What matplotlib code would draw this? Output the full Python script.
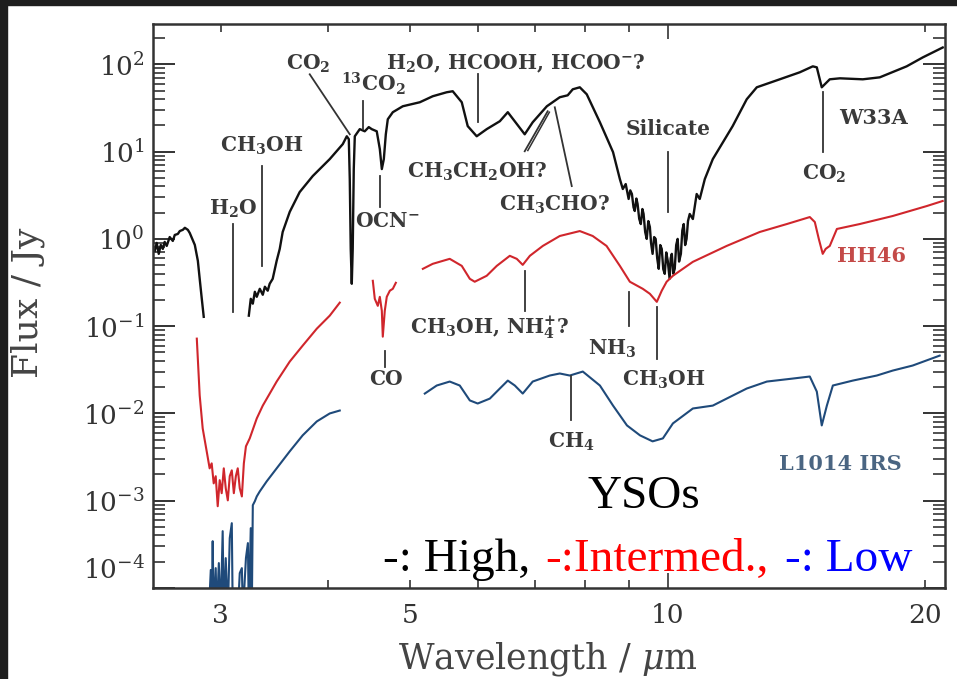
import matplotlib.pyplot as plt
from matplotlib.patches import Rectangle
from matplotlib.ticker import NullFormatter

plt.rcParams['font.family'] = 'DejaVu Serif'
plt.rcParams['mathtext.fontset'] = 'dejavuserif'

# W33A (high mass), wavelength in micron, flux in Jy
w33a_lam_1 = [2.512, 2.525, 2.539, 2.553, 2.567, 2.580, 2.594, 2.615, 2.637, 2.651, 2.673,
              2.687, 2.709, 2.724, 2.746, 2.760, 2.798, 2.821, 2.835, 2.851, 2.866]
w33a_flux_1 = [0.729, 0.90, 0.674, 0.853, 0.768, 0.924, 0.831, 1.05, 0.948, 1.11, 1.14,
               1.23, 1.27, 1.34, 1.27, 1.17, 0.853, 0.561, 0.349, 0.206, 0.128]
w33a_lam_2 = [3.236, 3.253, 3.271, 3.289, 3.306, 3.333, 3.360, 3.379, 3.405, 3.423, 3.451,
              3.488, 3.517, 3.545, 3.613, 3.711, 3.844, 4.024, 4.168, 4.213, 4.236, 4.247,
              4.258, 4.270, 4.281, 4.293, 4.305, 4.363, 4.422, 4.470, 4.506, 4.567, 4.605,
              4.630, 4.655, 4.680, 4.705, 4.769, 4.899, 5.129, 5.310, 5.514, 5.604, 5.742,
              5.835, 5.978, 6.141, 6.362, 6.500, 6.803, 6.951, 7.221, 7.477, 7.638, 7.743,
              7.891, 8.04, 8.33, 8.48, 8.63,
              8.79, 8.86, 8.93, 9.00, 9.04, 9.08, 9.12, 9.15, 9.19, 9.22, 9.26, 9.30,
              9.34, 9.37, 9.41, 9.45, 9.49, 9.53, 9.56, 9.60, 9.64, 9.68, 9.72, 9.76,
              9.80, 9.84, 9.88, 9.92, 9.96, 10.0, 10.05, 10.08, 10.11, 10.15, 10.19, 10.23,
              10.27, 10.31, 10.36, 10.40, 10.44, 10.48, 10.52, 10.56, 10.61, 10.70, 10.81, 10.90,
              11.05, 11.29, 11.91,
              12.37, 12.71, 13.52, 14.27, 14.78, 14.94, 15.14, 15.47, 15.90, 16.91, 17.70,
              19.03, 19.87, 20.97]
w33a_flux_2 = [0.132, 0.206, 0.181, 0.248, 0.217, 0.268, 0.229, 0.283, 0.255, 0.306, 0.349,
               0.561, 0.768, 1.20, 2.04, 3.44, 5.25, 8.21, 12.2, 15.0, 13.9, 4.85,
               0.768, 0.306, 0.768, 6.31, 15.0, 18.1, 17.1, 19.1, 18.1, 17.1, 10.7,
               6.31, 8.21, 15.8, 23.5, 28.3, 33.1, 36.8, 43.1, 47.9, 49.2, 36.8,
               19.6, 15.0, 18.1, 22.3, 28.3, 15.8, 21.7, 33.1, 42.0, 44.2, 51.8,
               54.6, 45.4, 21.7, 14.6, 9.87,
               4.85, 3.73, 4.25, 2.87, 3.6, 3.27, 2.3, 2.09, 2.9, 2.51, 1.7, 1.48,
               2.2, 1.93, 1.2, 1.0, 1.6, 1.37, 0.9, 0.674, 1.05, 1.0, 0.6, 0.454,
               0.85, 0.768, 0.45, 0.398, 0.7, 0.561, 0.349, 0.6, 0.674, 0.40, 0.454, 0.85,
               1.0, 0.55, 0.674, 1.25, 1.48, 0.85, 1.0, 1.6, 1.93, 1.69, 3.27, 2.87,
               4.85, 8.21, 19.6,
               39.8, 54.6, 67.4, 81.1, 94.9, 92.4, 54.6, 67.4, 69.2, 67.4, 71.0,
               94.9, 120.0, 156.0]

# HH46 (intermediate)
hh46_lam_1 = [2.813, 2.835, 2.858, 2.889, 2.912, 2.928, 2.944, 2.960, 2.976, 2.992, 3.008,
              3.025, 3.041, 3.058, 3.074, 3.091, 3.108, 3.125, 3.141, 3.158, 3.176, 3.193,
              3.211, 3.244, 3.306, 3.360, 3.488, 3.613, 3.741, 3.886, 4.024, 4.134]
hh46_flux_1 = [0.0720, 0.0161, 0.00674, 0.00368, 0.00235, 0.00268, 0.00158, 0.00191, 0.000865,
               0.00172, 0.00122, 0.00235, 0.00139, 0.00101, 0.00191, 0.00223, 0.00122, 0.00191,
               0.00235, 0.00139, 0.00112, 0.00268, 0.00420, 0.00518, 0.00877, 0.0123, 0.0232,
               0.0393, 0.0598, 0.0936, 0.132, 0.186]
hh46_lam_2 = [4.519, 4.543, 4.580, 4.605, 4.630, 4.642, 4.667, 4.692, 4.731, 4.769, 4.808]
hh46_flux_2 = [0.331, 0.206, 0.171, 0.217, 0.150, 0.0758, 0.150, 0.217, 0.255, 0.268, 0.314]
hh46_lam_3 = [5.171, 5.310, 5.559, 5.742, 5.868, 5.946, 6.141, 6.310, 6.535, 6.659, 6.767,
              6.898, 7.143, 7.477, 7.891, 8.17, 8.48, 8.79, 9.03, 9.35, 9.53, 9.71, 9.84,
              9.97, 10.14, 10.70, 11.72, 12.81, 13.78, 14.66, 14.86, 15.02, 15.18, 15.30,
              15.47, 15.77, 16.77, 18.33, 20.09, 20.97]
hh46_flux_3 = [0.454, 0.518, 0.591, 0.491, 0.349, 0.323, 0.378, 0.491, 0.640, 0.591, 0.504,
               0.640, 0.831, 1.08, 1.23, 1.08, 0.831, 0.491, 0.323, 0.268, 0.235, 0.190, 0.255,
               0.323, 0.378, 0.546, 0.831, 1.20, 1.48, 1.78, 1.56, 1.0, 0.674, 0.768,
               0.831, 1.30, 1.48, 1.83, 2.38, 2.72]

# L1014 IRS (low)
l1014_lam_1 = [2.905, 2.921, 2.928, 2.936, 2.944, 2.960, 2.968, 2.985, 3.000, 3.016, 3.025,
               3.041, 3.058, 3.074, 3.091, 3.099, 3.141, 3.158, 3.176, 3.185, 3.211, 3.228,
               3.236, 3.253, 3.262, 3.271, 3.289, 3.306, 3.333, 3.396, 3.488, 3.613, 3.741,
               3.886, 4.024, 4.134]
l1014_flux_1 = [5e-5, 0.000161, 5e-5, 0.000344, 5e-5, 0.000169, 5e-5, 0.000193, 5e-5, 0.000448,
                5e-5, 0.000220, 5e-5, 0.000373, 0.000553, 5e-5, 5e-5, 0.000148, 0.000169, 5e-5,
                0.000220, 0.000327, 5e-5, 0.000485, 5e-5, 0.000889, 0.000987, 0.00112, 0.00128,
                0.00167, 0.00235, 0.00368, 0.00561, 0.00810, 0.0100, 0.0108]
l1014_lam_2 = [5.198, 5.368, 5.559, 5.711, 5.868, 5.994, 6.193, 6.362, 6.500, 6.624, 6.767,
               6.951, 7.278, 7.477, 7.681, 7.955, 8.33, 8.63, 8.96, 9.28, 9.60, 9.87, 10.14,
               10.70, 11.29, 11.72, 12.37, 13.06, 14.00, 14.66, 14.94, 15.14, 15.35, 15.60,
               16.46, 17.56, 18.33, 19.34, 20.80]
l1014_flux_2 = [0.0169, 0.0209, 0.0232, 0.0209, 0.0141, 0.0130, 0.0148, 0.0193, 0.0238, 0.0209,
                0.0169, 0.0232, 0.0272, 0.0287, 0.0272, 0.0302, 0.0209, 0.0123, 0.00729, 0.00561,
                0.00479, 0.00518, 0.00769, 0.0114, 0.0123, 0.0148, 0.0193, 0.0232, 0.0251,
                0.0265, 0.0178, 0.00729, 0.0123, 0.0209, 0.0238, 0.0272, 0.0310, 0.0354, 0.0460]

# feature labels: text, text position, pointer line (lam0, lam1, flux0, flux1)
feat_text = [r'CO$_\mathbf{2}$', r'$^{\mathbf{13}}$CO$_\mathbf{2}$',
             r'H$_\mathbf{2}$O, HCOOH, HCOO$^\mathbf{-}$?', r'CH$_\mathbf{3}$OH',
             r'H$_\mathbf{2}$O', r'OCN$^\mathbf{-}$', r'CH$_\mathbf{3}$CH$_\mathbf{2}$OH?',
             r'CH$_\mathbf{3}$CHO?', 'Silicate', r'CO$_\mathbf{2}$',
             r'CH$_\mathbf{3}$OH, NH$_\mathbf{4}^\mathbf{+}$?', r'NH$_\mathbf{3}$',
             r'CH$_\mathbf{3}$OH', 'CO', r'CH$_\mathbf{4}$']
feat_lam = [3.80, 4.52, 6.64, 3.35, 3.10, 4.70, 5.99, 7.38, 10.0, 15.22, 6.19, 8.60, 9.89, 4.68, 7.72]
feat_flux = [102.6, 60.6, 102.6, 11.6, 2.20, 1.61, 5.83, 2.45, 18.1, 5.53, 0.0936, 0.0553,
             0.0245, 0.0245, 0.00479]
line_lam = [(3.813, 4.247), (4.398, 4.398), (5.994, 5.994), (3.351, 3.351), (3.099, 3.099),
            (4.605, 4.605), (6.803, 7.237), (7.722, 7.377), (10.0, 10.0), (15.18, 15.18),
            (6.803, 6.803), (9.00, 9.00), (9.71, 9.71), (4.667, 4.667), (7.70, 7.70)]
line_flux = [(76.9, 15.8), (37.8, 18.1), (76.9, 21.7), (6.83, 0.491), (1.48, 0.1466),
             (5.25, 2.32), (10.1, 29.0), (4.03, 32.2), (9.87, 2.04), (47.9, 9.87),
             (0.431, 0.150), (0.248, 0.1014), (0.167, 0.0425), (0.0525, 0.0344), (0.0272, 0.00832)]

src_names = ['W33A', 'HH46', 'L1014 IRS']
src_lam = [17.41, 17.32, 15.90]
src_flux = [24.1, 0.640, 0.00261]
src_color = ['#3a3a3a', '#c44a48', '#4a6582']

fig = plt.figure(figsize=(9.57, 6.79), dpi=100)
fig.add_artist(Rectangle((0, 1 - 5 / 679), 1, 5 / 679, transform=fig.transFigure,
                         color='#1e1e1e', zorder=-1))
fig.add_artist(Rectangle((0, 0), 7 / 957, 1, transform=fig.transFigure,
                         color='#1e1e1e', zorder=-1))
ax = fig.add_axes([153 / 957, 91 / 679, 792 / 957, 564 / 679])

ax.plot(w33a_lam_1, w33a_flux_1, color='#111111', lw=1.7)
ax.plot(w33a_lam_2, w33a_flux_2, color='#111111', lw=1.7)
for lam, flux in [(hh46_lam_1, hh46_flux_1), (hh46_lam_2, hh46_flux_2), (hh46_lam_3, hh46_flux_3)]:
    ax.plot(lam, flux, color='#d0262c', lw=1.5)
for lam, flux in [(l1014_lam_1, l1014_flux_1), (l1014_lam_2, l1014_flux_2)]:
    ax.plot(lam, flux, color='#1f4a7a', lw=1.5)

for i in range(len(feat_text)):
    ax.text(feat_lam[i], feat_flux[i], feat_text[i], fontsize=14.5, fontweight='bold',
            color='#3a3a3a', ha='center', va='center')
    ax.plot(line_lam[i], line_flux[i], color='#333333', lw=1.3)
# second stroke of the doubled CH3CH2OH pointer
ax.plot([6.86, 7.27], [10.3, 28.3], color='#333333', lw=1.1)

for name, lam, flux, col in zip(src_names, src_lam, src_flux, src_color):
    ax.text(lam, flux, name, fontsize=15, fontweight='bold', color=col, ha='center', va='center')

ax.set_xscale('log')
ax.set_yscale('log')
ax.set_xlim(2.50, 21.1)
ax.set_ylim(1.03e-4, 290)

ax.set_xticks([3, 5, 10, 20], ['3', '5', '10', '20'])
ax.set_xticks([4, 6, 7, 8, 9], minor=True)
ax.xaxis.set_minor_formatter(NullFormatter())
ytick_vals = [1e-4, 1e-3, 1e-2, 1e-1, 1e0, 1e1, 1e2]
ytick_labels = ['', r'$10^{-3}$', r'$10^{-2}$', r'$10^{-1}$', r'$10^{0}$', r'$10^{1}$', r'$10^{2}$']
ax.set_yticks(ytick_vals, ytick_labels)
ax.yaxis.set_minor_formatter(NullFormatter())
ax.text(-8 / 792, 0.037, r'$10^{-4}$', transform=ax.transAxes, ha='right',
        va='center_baseline', fontsize=19, color='#333333')

ax.tick_params(which='both', direction='in', top=True, right=True, colors='#333333')
ax.tick_params(axis='y', which='major', length=16, width=1.4, pad=6, labelsize=19)
ax.tick_params(axis='y', which='minor', length=8.5, width=1.2)
ax.tick_params(axis='x', which='both', length=6, width=1.2)
ax.tick_params(axis='x', which='major', pad=11, labelsize=19)
for t in ax.xaxis.get_major_ticks():
    if t.get_loc() == 10:
        t.tick1line.set_markersize(11)
        t.tick2line.set_markersize(11)
for sp in ax.spines.values():
    sp.set_linewidth(1.8)
    sp.set_color('#333333')

ax.set_xlabel(r'Wavelength / $\mu$m', fontsize=25, color='#444444')
ax.xaxis.set_label_coords(0.499, -0.092)
ax.set_ylabel('Flux / Jy', fontsize=26, color='#444444')
ax.yaxis.set_label_coords(-0.136, 0.506)

ax.text(0.620, 0.161, 'YSOs', transform=ax.transAxes, family='Liberation Serif',
        fontsize=34, ha='center', va='center', color='black')
ax.text(0.290, 0.030, '-: High,', transform=ax.transAxes, family='Liberation Serif',
        fontsize=34, ha='left', va='baseline', color='black')
ax.text(0.495, 0.030, '-:Intermed.,', transform=ax.transAxes, family='Liberation Serif',
        fontsize=34, ha='left', va='baseline', color='#ff0000')
ax.text(0.798, 0.030, '-: Low', transform=ax.transAxes, family='Liberation Serif',
        fontsize=34, ha='left', va='baseline', color='#0000ff')

fig.savefig('out.png', dpi=100)
